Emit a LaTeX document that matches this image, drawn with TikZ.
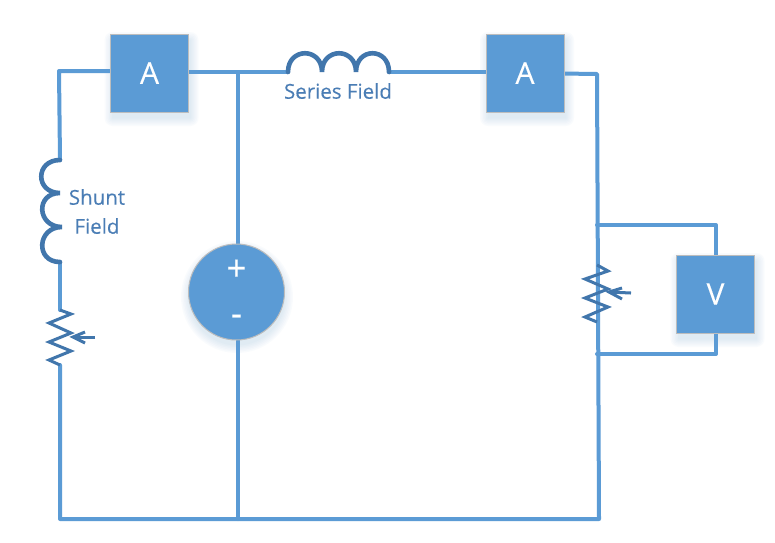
\documentclass[tikz,border=0pt]{standalone}
\usepackage{fontspec}
\setmainfont{Open Sans}
\newfontfamily\labelfont[FakeBold=0.2]{Open Sans}
\usetikzlibrary{shapes.geometric}
\definecolor{wirec}{HTML}{5B9BD5}
\definecolor{darkc}{HTML}{4176AC}
\definecolor{textc}{HTML}{4A7DB5}
\definecolor{edgec}{HTML}{BDBDBD}
\newcommand{\softshadow}[4]{% cx cy half-w half-h
  \foreach \d in {8,6.5,5,3.5,2,0.5}{
    \fill[wirec,opacity=0.03,rounded corners=\d pt] (#1-#3-\d+2,#2-#4-\d+6) rectangle (#1+#3+\d+2,#2+#4+\d+6);
  }}
\tikzset{
  wire/.style={draw=wirec,line width=4pt,line cap=round,line join=round},
  coil/.style={draw=darkc,line width=4.6pt,line cap=round},
  zig/.style={draw=darkc,line width=3pt,line join=miter},
  meter/.style={rectangle,draw=edgec,line width=1pt,fill=wirec,minimum size=78pt,inner sep=0pt,outer sep=0pt,text=white,font=\labelfont\fontsize{30}{30}\selectfont},
  source/.style={circle,draw=edgec,line width=1pt,fill=wirec,minimum size=96pt,inner sep=0pt,outer sep=0pt},
  sign/.style={text=white,font=\labelfont\fontsize{35}{35}\selectfont,inner sep=0pt},
  lab/.style={text=textc,font=\labelfont\fontsize{20.5}{20.5}\selectfont,inner sep=0pt}
}
\begin{document}
\begin{tikzpicture}[x=1pt,y=-1pt]
\useasboundingbox (0,0) rectangle (775,542);
\fill[white] (0,0) rectangle (775,542);
% free points
\coordinate (tl) at (59,71);
\coordinate (shTop) at (60,160);
\coordinate (sh1) at (60,193);
\coordinate (sh2) at (62,227);
\coordinate (shBot) at (60,262);
\coordinate (r1a) at (60,310);
\coordinate (r1b) at (60,365);
\coordinate (bl) at (60,519);
\coordinate (jt) at (238,72);
\coordinate (jb) at (238,519);
\coordinate (seA) at (288,72);
\coordinate (se1) at (322,72);
\coordinate (se2) at (356,72);
\coordinate (seB) at (389,72);
\coordinate (tr) at (597,74);
\coordinate (br) at (599,519);
\coordinate (r2a) at (597,265);
\coordinate (r2b) at (597,322);
\coordinate (vt) at (597,225);
\coordinate (vtc) at (716,225);
\coordinate (vb) at (597,354);
\coordinate (vbc) at (716,354);
\coordinate (ar1s) at (95,337);
\coordinate (ar1e) at (73,337);
\coordinate (ar2s) at (631,293);
\coordinate (ar2e) at (609,292);
% shadows
\softshadow{149.5}{73}{39}{39}
\softshadow{525}{73}{39}{39}
\softshadow{715.5}{294}{39}{39}
\foreach \d in {8,6.5,5,3.5,2,0.5}{\fill[wirec,opacity=0.03] (237,297) circle (48+\d);}
% wires
\draw[wire] (149.5,71) -- (tl) -- (shTop);
\draw[wire] (shBot) -- (r1a);
\draw[wire] (r1b) -- (bl) -- (br) -- (tr) -- (525,73);
\draw[wire] (149.5,72) -- (seA);
\draw[wire] (seB) -- (525,72);
\draw[wire] (jt) -- (jb);
\draw[wire] (vt) -- (vtc) -- (716,294);
\draw[wire] (vb) -- (vbc) -- (716,294);
% meters
\node[meter] (a1) at (149.5,73) {A};
\node[meter] (a2) at (525,73) {A};
\node[meter] (v) at (715.5,294) {V};
\node[source] (src) at (236.5,292) {};
\node[sign] (plus) at (236.5,270) {+};
\node[sign] (minus) at (236.5,320) {-};
% series coil
\draw[coil] (seA) .. controls +(0,-25) and +(0,-25) .. (se1)
  .. controls +(0,-25) and +(0,-25) .. (se2)
  .. controls +(0,-25) and +(0,-25) .. (seB);
% shunt coil
\draw[coil] (shTop) .. controls +(-25,0) and +(-25,0) .. (sh1)
  .. controls +(-25,0) and +(-25,0) .. (sh2)
  .. controls +(-25,0) and +(-25,0) .. (shBot);
% rheostats
\draw[zig] (r1a) -- (71,314) -- (49,323) -- (71,333) -- (49,342) -- (71,351) -- (49,360) -- (r1b);
\draw[zig] (r2a) -- (608,271) -- (585,279) -- (608,289) -- (585,298) -- (608,307) -- (585,317) -- (r2b);
\draw[zig] (ar1s) -- (ar1e);
\draw[zig] (85,332) -- (ar1e) -- (85,343);
\draw[zig] (ar2s) -- (ar2e);
\draw[zig] (622,288) -- (ar2e) -- (622,299);
% labels
\node[lab] (seLab) at (338,91) {Series Field};
\node[lab] (shLab1) at (97,197) {Shunt};
\node[lab] (shLab2) at (97,226) {Field};
\end{tikzpicture}
\end{document}
